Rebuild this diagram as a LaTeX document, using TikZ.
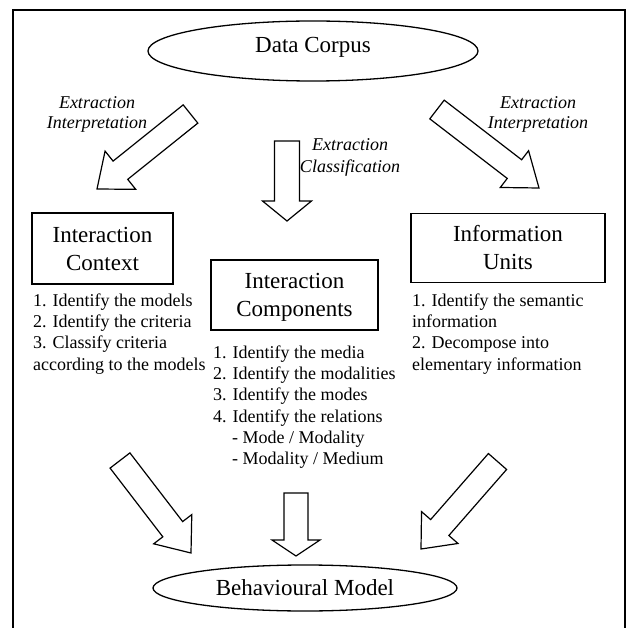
\documentclass[tikz,border=0pt]{standalone}
\usepackage{fontspec}
\setmainfont{Liberation Serif}
\usetikzlibrary{calc,shapes.geometric}

% Outlined block arrow: tail, tip, half shaft width, half head width, head length
\newcommand{\blockarrow}[5]{%
  \coordinate (hb) at ($(#2)!#5!(#1)$);
  \draw[barrow]
    ($(#1)!#3!90:(#2)$) -- ($(hb)!#3!90:(#2)$) -- ($(hb)!#4!90:(#2)$) --
    (#2) --
    ($(hb)!#4!-90:(#2)$) -- ($(hb)!#3!-90:(#2)$) -- ($(#1)!#3!-90:(#2)$) -- cycle;
}

\tikzset{
  frameline/.style={line width=1.8pt},
  barrow/.style={line width=1.2pt, line join=miter},
  titlefont/.style={font=\fontsize{23}{28}\selectfont},
  boxnode/.style={draw, line width=1.3pt, rectangle, inner sep=0pt, align=center, titlefont},
  ellnode/.style={draw, line width=1.3pt, ellipse, inner sep=0pt, titlefont},
  steplist/.style={anchor=north west, inner sep=0pt, align=left, font=\fontsize{18}{21.3}\selectfont},
  flowlabel/.style={anchor=north, inner sep=0pt, align=center, font=\fontsize{18}{20}\selectfont\itshape}
}

\begin{document}
\begin{tikzpicture}[x=1pt,y=-1pt]
\useasboundingbox (0,0) rectangle (629,628);

% open frame around the figure
\draw[frameline] (13,628) -- (13,10) -- (625,10) -- (625,628);

% source and result
\node[ellnode, minimum width=330pt, minimum height=60pt, text height=15.5pt, text depth=11.5pt] (corpus) at (313,51) {Data Corpus};
\node[ellnode, minimum width=304pt, minimum height=46pt] (model) at (305,588) {Behavioural Model};

% the three analysis dimensions
\node[boxnode, minimum width=141pt, minimum height=71pt] (context) at (102.5,248.5) {Interaction\\Context};
\node[boxnode, minimum width=167pt, minimum height=70pt, text depth=0pt] (components) at (294.5,295) {Interaction\\Components};
\node[boxnode, minimum width=194pt, minimum height=69pt] (units) at (508,248) {Information\\Units};

% steps for each dimension
\node[steplist] (contextsteps) at (33,291.1) {\strut 1. Identify the models\\2. Identify the criteria\\3. Classify criteria\\according to the models};
\node[steplist] (componentsteps) at (213,343.1) {\strut 1. Identify the media\\2. Identify the modalities\\3. Identify the modes\\4. Identify the relations\\\hspace*{19pt}- Mode / Modality\\\hspace*{19pt}- Modality / Medium};
\node[steplist] (unitsteps) at (412,291.1) {\strut 1. Identify the semantic\\information\\2. Decompose into\\elementary information};

% arrow labels
\node[flowlabel] (lblleft) at (97,94) {\strut Extraction\\Interpretation};
\node[flowlabel] (lblright) at (538,94) {\strut Extraction\\Interpretation};
\node[flowlabel, font=\fontsize{18}{22}\selectfont\itshape] (lblmid) at (350,134.6) {\strut Extraction\\Classification};

% arrow end points
\coordinate (ulTail) at (190.5,114);  \coordinate (ulTip) at (97,189);
\coordinate (umTail) at (287,141);    \coordinate (umTip) at (287,221);
\coordinate (urTail) at (437,109.5);  \coordinate (urTip) at (539,188);
\coordinate (llTail) at (120,460.5);  \coordinate (llTip) at (191,553);
\coordinate (lmTail) at (296,493);    \coordinate (lmTip) at (296,556);
\coordinate (lrTail) at (497.5,461.5);\coordinate (lrTip) at (421,549);

% block arrows from the corpus to the dimensions
\blockarrow{ulTail}{ulTip}{11.7pt}{24.5pt}{30pt}
\blockarrow{umTail}{umTip}{12.5pt}{24.5pt}{20pt}
\blockarrow{urTail}{urTip}{11.8pt}{23.2pt}{31pt}

% block arrows from the dimensions to the model
\blockarrow{llTail}{llTip}{12.5pt}{24pt}{30pt}
\blockarrow{lmTail}{lmTip}{12pt}{24pt}{16pt}
\blockarrow{lrTail}{lrTip}{12.1pt}{24.2pt}{28.5pt}
\end{tikzpicture}
\end{document}
